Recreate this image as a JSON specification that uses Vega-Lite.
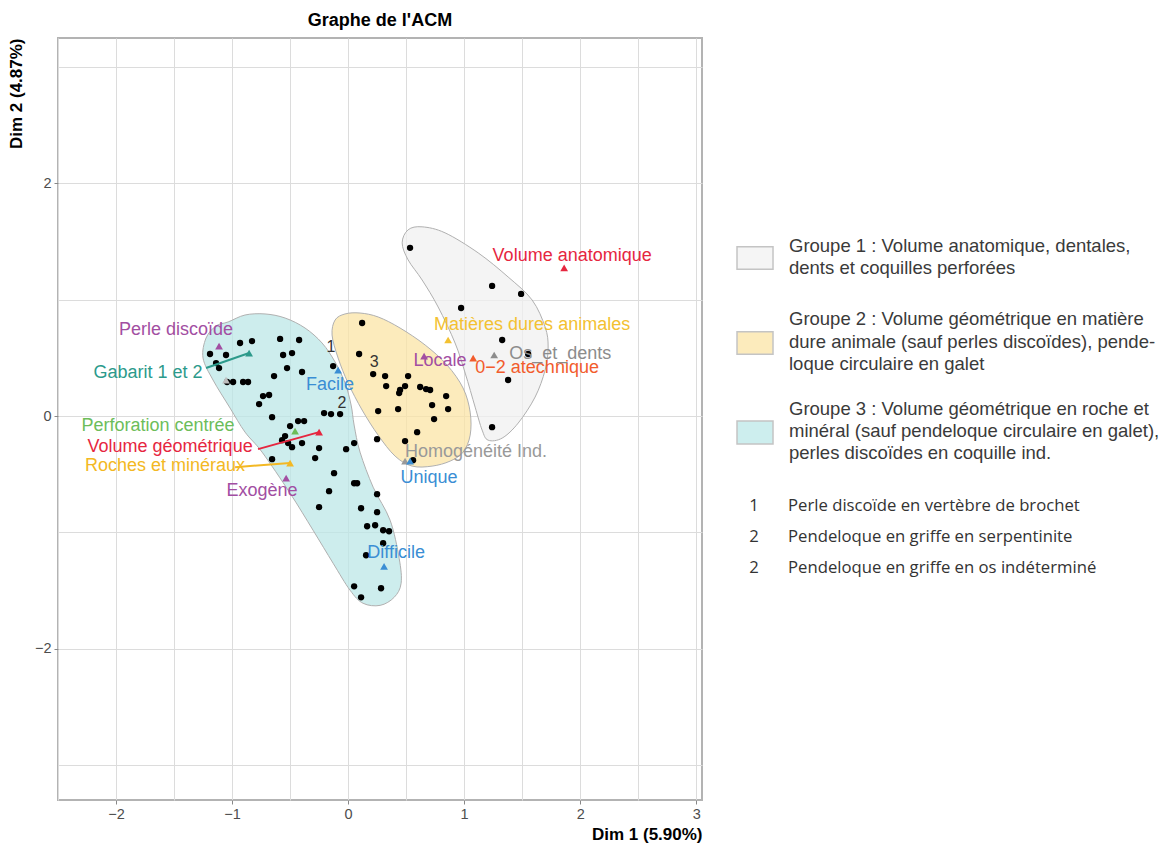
{
  "$schema": "https://vega.github.io/schema/vega-lite/v6.json",
  "background": "white",
  "padding": {"left": 6, "top": 11, "right": 5, "bottom": 5},
  "config": {"font": "Liberation Sans", "concat": {"spacing": 10}},
  "resolve": {"scale": {"x": "independent", "y": "independent", "color": "independent", "fill": "independent"}},
  "datasets": {
    "hulls": [
      {"g": "Groupe 1", "i": 1, "x": 0.466, "y": 1.489},
      {"g": "Groupe 1", "i": 2, "x": 0.517, "y": 1.601},
      {"g": "Groupe 1", "i": 3, "x": 0.638, "y": 1.627},
      {"g": "Groupe 1", "i": 4, "x": 0.836, "y": 1.575},
      {"g": "Groupe 1", "i": 5, "x": 1.121, "y": 1.403},
      {"g": "Groupe 1", "i": 6, "x": 1.379, "y": 1.196},
      {"g": "Groupe 1", "i": 7, "x": 1.586, "y": 0.998},
      {"g": "Groupe 1", "i": 8, "x": 1.698, "y": 0.766},
      {"g": "Groupe 1", "i": 9, "x": 1.724, "y": 0.594},
      {"g": "Groupe 1", "i": 10, "x": 1.698, "y": 0.396},
      {"g": "Groupe 1", "i": 11, "x": 1.612, "y": 0.164},
      {"g": "Groupe 1", "i": 12, "x": 1.466, "y": -0.060},
      {"g": "Groupe 1", "i": 13, "x": 1.328, "y": -0.189},
      {"g": "Groupe 1", "i": 14, "x": 1.207, "y": -0.207},
      {"g": "Groupe 1", "i": 15, "x": 1.155, "y": -0.120},
      {"g": "Groupe 1", "i": 16, "x": 1.095, "y": 0.077},
      {"g": "Groupe 1", "i": 17, "x": 1.009, "y": 0.370},
      {"g": "Groupe 1", "i": 18, "x": 0.922, "y": 0.628},
      {"g": "Groupe 1", "i": 19, "x": 0.776, "y": 0.938},
      {"g": "Groupe 1", "i": 20, "x": 0.638, "y": 1.170},
      {"g": "Groupe 1", "i": 21, "x": 0.517, "y": 1.343},
      {"g": "Groupe 2", "i": 1, "x": -0.112, "y": 0.826},
      {"g": "Groupe 2", "i": 2, "x": -0.026, "y": 0.878},
      {"g": "Groupe 2", "i": 3, "x": 0.103, "y": 0.886},
      {"g": "Groupe 2", "i": 4, "x": 0.259, "y": 0.852},
      {"g": "Groupe 2", "i": 5, "x": 0.448, "y": 0.757},
      {"g": "Groupe 2", "i": 6, "x": 0.664, "y": 0.611},
      {"g": "Groupe 2", "i": 7, "x": 0.853, "y": 0.439},
      {"g": "Groupe 2", "i": 8, "x": 0.991, "y": 0.241},
      {"g": "Groupe 2", "i": 9, "x": 1.052, "y": 0.034},
      {"g": "Groupe 2", "i": 10, "x": 1.052, "y": -0.164},
      {"g": "Groupe 2", "i": 11, "x": 0.991, "y": -0.310},
      {"g": "Groupe 2", "i": 12, "x": 0.879, "y": -0.387},
      {"g": "Groupe 2", "i": 13, "x": 0.724, "y": -0.430},
      {"g": "Groupe 2", "i": 14, "x": 0.552, "y": -0.430},
      {"g": "Groupe 2", "i": 15, "x": 0.405, "y": -0.344},
      {"g": "Groupe 2", "i": 16, "x": 0.259, "y": -0.164},
      {"g": "Groupe 2", "i": 17, "x": 0.121, "y": 0.052},
      {"g": "Groupe 2", "i": 18, "x": 0.000, "y": 0.284},
      {"g": "Groupe 2", "i": 19, "x": -0.086, "y": 0.499},
      {"g": "Groupe 2", "i": 20, "x": -0.138, "y": 0.697},
      {"g": "Groupe 3", "i": 1, "x": -1.034, "y": 0.809},
      {"g": "Groupe 3", "i": 2, "x": -0.888, "y": 0.869},
      {"g": "Groupe 3", "i": 3, "x": -0.716, "y": 0.878},
      {"g": "Groupe 3", "i": 4, "x": -0.543, "y": 0.843},
      {"g": "Groupe 3", "i": 5, "x": -0.371, "y": 0.757},
      {"g": "Groupe 3", "i": 6, "x": -0.224, "y": 0.628},
      {"g": "Groupe 3", "i": 7, "x": -0.112, "y": 0.465},
      {"g": "Groupe 3", "i": 8, "x": -0.026, "y": 0.284},
      {"g": "Groupe 3", "i": 9, "x": 0.026, "y": 0.095},
      {"g": "Groupe 3", "i": 10, "x": 0.052, "y": -0.077},
      {"g": "Groupe 3", "i": 11, "x": 0.103, "y": -0.310},
      {"g": "Groupe 3", "i": 12, "x": 0.216, "y": -0.611},
      {"g": "Groupe 3", "i": 13, "x": 0.362, "y": -0.895},
      {"g": "Groupe 3", "i": 14, "x": 0.440, "y": -1.222},
      {"g": "Groupe 3", "i": 15, "x": 0.457, "y": -1.437},
      {"g": "Groupe 3", "i": 16, "x": 0.397, "y": -1.558},
      {"g": "Groupe 3", "i": 17, "x": 0.276, "y": -1.627},
      {"g": "Groupe 3", "i": 18, "x": 0.129, "y": -1.609},
      {"g": "Groupe 3", "i": 19, "x": 0.017, "y": -1.497},
      {"g": "Groupe 3", "i": 20, "x": -0.129, "y": -1.265},
      {"g": "Groupe 3", "i": 21, "x": -0.302, "y": -0.981},
      {"g": "Groupe 3", "i": 22, "x": -0.500, "y": -0.663},
      {"g": "Groupe 3", "i": 23, "x": -0.741, "y": -0.310},
      {"g": "Groupe 3", "i": 24, "x": -0.888, "y": -0.138},
      {"g": "Groupe 3", "i": 25, "x": -1.017, "y": 0.069},
      {"g": "Groupe 3", "i": 26, "x": -1.164, "y": 0.310},
      {"g": "Groupe 3", "i": 27, "x": -1.250, "y": 0.499},
      {"g": "Groupe 3", "i": 28, "x": -1.224, "y": 0.671},
      {"g": "Groupe 3", "i": 29, "x": -1.138, "y": 0.775}
    ],
    "points": [
      {"x": -1.190, "y": 0.534}, {"x": -1.138, "y": 0.456}, {"x": -1.112, "y": 0.413}, {"x": -1.052, "y": 0.525},
      {"x": -0.931, "y": 0.628}, {"x": -0.828, "y": 0.645}, {"x": -0.586, "y": 0.663}, {"x": -0.422, "y": 0.654},
      {"x": -0.560, "y": 0.525}, {"x": -0.483, "y": 0.542}, {"x": -0.526, "y": 0.413}, {"x": -0.397, "y": 0.379},
      {"x": -0.638, "y": 0.344}, {"x": -1.043, "y": 0.293}, {"x": -0.991, "y": 0.293}, {"x": -0.905, "y": 0.293},
      {"x": -0.862, "y": 0.293}, {"x": -0.733, "y": 0.172}, {"x": -0.681, "y": 0.181}, {"x": -0.767, "y": 0.103},
      {"x": -0.655, "y": -0.009}, {"x": -0.207, "y": 0.026}, {"x": -0.147, "y": 0.017}, {"x": -0.069, "y": 0.017},
      {"x": -0.129, "y": 0.430}, {"x": -0.500, "y": -0.086}, {"x": -0.431, "y": -0.043}, {"x": -0.379, "y": -0.043},
      {"x": -0.543, "y": -0.172}, {"x": -0.569, "y": -0.207}, {"x": -0.517, "y": -0.232}, {"x": -0.483, "y": -0.267},
      {"x": -0.397, "y": -0.232}, {"x": -0.250, "y": -0.275}, {"x": -0.655, "y": -0.370}, {"x": -0.284, "y": -0.361},
      {"x": -0.017, "y": -0.284}, {"x": 0.052, "y": -0.232}, {"x": -0.121, "y": -0.491}, {"x": 0.052, "y": -0.577},
      {"x": 0.078, "y": -0.577}, {"x": -0.164, "y": -0.645}, {"x": 0.250, "y": -0.671}, {"x": -0.250, "y": -0.783},
      {"x": 0.112, "y": -0.792}, {"x": 0.250, "y": -0.826}, {"x": 0.164, "y": -0.947}, {"x": 0.233, "y": -0.938},
      {"x": 0.302, "y": -0.981}, {"x": 0.353, "y": -0.990}, {"x": 0.302, "y": -1.093}, {"x": 0.155, "y": -1.196},
      {"x": 0.052, "y": -1.463}, {"x": 0.284, "y": -1.480}, {"x": 0.112, "y": -1.558},
      {"x": 0.121, "y": 0.800}, {"x": 0.095, "y": 0.534}, {"x": 0.216, "y": 0.361}, {"x": 0.319, "y": 0.344},
      {"x": 0.328, "y": 0.258}, {"x": 0.517, "y": 0.344}, {"x": 0.491, "y": 0.258}, {"x": 0.448, "y": 0.224},
      {"x": 0.440, "y": 0.198}, {"x": 0.621, "y": 0.250}, {"x": 0.672, "y": 0.232}, {"x": 0.707, "y": 0.224},
      {"x": 0.845, "y": 0.172}, {"x": 0.724, "y": 0.095}, {"x": 0.862, "y": 0.060}, {"x": 0.431, "y": 0.060},
      {"x": 0.259, "y": 0.043}, {"x": 0.741, "y": -0.026}, {"x": 0.595, "y": -0.138}, {"x": 0.491, "y": -0.215},
      {"x": 0.250, "y": -0.198}, {"x": 0.560, "y": -0.379},
      {"x": 0.534, "y": 1.446}, {"x": 1.241, "y": 1.119}, {"x": 1.491, "y": 1.050}, {"x": 0.974, "y": 0.929},
      {"x": 1.328, "y": 0.654}, {"x": 1.552, "y": 0.534}, {"x": 1.379, "y": 0.310}, {"x": 1.241, "y": -0.095}
    ],
    "cats": [
      {"cat": "Ind.", "label": "", "x": -1.052, "y": 0.310, "lx": -1.052, "ly": 0.310},
      {"cat": "Perle discoïde", "label": "Perle discoïde", "x": -1.112, "y": 0.602, "lx": -1.483, "ly": 0.740},
      {"cat": "Gabarit 1 et 2", "label": "Gabarit 1 et 2", "x": -0.853, "y": 0.542, "lx": -1.724, "ly": 0.370},
      {"cat": "Perforation centrée", "label": "Perforation centrée", "x": -0.457, "y": -0.129, "lx": -1.638, "ly": -0.086},
      {"cat": "Volume géométrique", "label": "Volume géométrique", "x": -0.250, "y": -0.138, "lx": -1.534, "ly": -0.267},
      {"cat": "Roches et minéraux", "label": "Roches et minéraux", "x": -0.500, "y": -0.404, "lx": -1.578, "ly": -0.430},
      {"cat": "Exogène", "label": "Exogène", "x": -0.534, "y": -0.534, "lx": -0.741, "ly": -0.645},
      {"cat": "Facile", "label": "Facile", "x": -0.086, "y": 0.396, "lx": -0.155, "ly": 0.267},
      {"cat": "Difficile", "label": "Difficile", "x": 0.310, "y": -1.291, "lx": 0.414, "ly": -1.179},
      {"cat": "Homogénéité Ind.", "label": "Homogénéité Ind.", "x": 0.491, "y": -0.387, "lx": 1.103, "ly": -0.310},
      {"cat": "Unique", "label": "Unique", "x": 0.534, "y": -0.387, "lx": 0.698, "ly": -0.534},
      {"cat": "Locale", "label": "Locale", "x": 0.655, "y": 0.516, "lx": 0.793, "ly": 0.473},
      {"cat": "Matières dures animales", "label": "Matières dures animales", "x": 0.862, "y": 0.654, "lx": 1.586, "ly": 0.783},
      {"cat": "0−2 atechnique", "label": "0−2 atechnique", "x": 1.078, "y": 0.499, "lx": 1.629, "ly": 0.413},
      {"cat": "Os_et_dents", "label": "Os_et_dents", "x": 1.259, "y": 0.525, "lx": 1.828, "ly": 0.534},
      {"cat": "Volume anatomique", "label": "Volume anatomique", "x": 1.862, "y": 1.274, "lx": 1.931, "ly": 1.377}
    ],
    "segs": [
      {"cat": "Gabarit 1 et 2", "x": -1.224, "y": 0.413, "x2": -0.853, "y2": 0.542},
      {"cat": "Volume géométrique", "x": -0.776, "y": -0.284, "x2": -0.250, "y2": -0.138},
      {"cat": "Roches et minéraux", "x": -0.974, "y": -0.439, "x2": -0.500, "y2": -0.404}
    ],
    "nums": [
      {"n": "1", "x": -0.147, "y": 0.593},
      {"n": "2", "x": -0.052, "y": 0.112},
      {"n": "3", "x": 0.224, "y": 0.465}
    ],
    "legBoxes": [
      {"grp": "Groupe 1", "top": 9.154, "bottom": 10.145},
      {"grp": "Groupe 2", "top": 12.882, "bottom": 13.873},
      {"grp": "Groupe 3", "top": 16.798, "bottom": 17.807}
    ],
    "legGroups": [
      {"row": 9.123, "text": "Groupe 1 : Volume anatomique, dentales,"},
      {"row": 10.07, "text": "dents et coquilles perforées"},
      {"row": 12.32, "text": "Groupe 2 : Volume géométrique en matière"},
      {"row": 13.32, "text": "dure animale (sauf perles discoïdes), pende-"},
      {"row": 14.30, "text": "loque circulaire en galet"},
      {"row": 16.27, "text": "Groupe 3 : Volume géométrique en roche et"},
      {"row": 17.24, "text": "minéral (sauf pendeloque circulaire en galet),"},
      {"row": 18.22, "text": "perles discoïdes en coquille ind."}
    ],
    "legNums": [
      {"row": 20.53, "num": "1", "text": "Perle discoïde en vertèbre de brochet"},
      {"row": 21.87, "num": "2", "text": "Pendeloque en griffe en serpentinite"},
      {"row": 23.23, "num": "2", "text": "Pendeloque en griffe en os indéterminé"}
    ]
  },
  "hconcat": [
    {
      "width": 644,
      "height": 762,
      "view": {"stroke": "#b3b3b3", "strokeWidth": 2},
      "title": {"text": "Graphe de l'ACM", "fontSize": 18, "fontWeight": "bold", "color": "#000000", "anchor": "middle", "offset": 8},
      "layer": [
        {
          "data": {"name": "hulls"},
          "mark": {"type": "line", "interpolate": "cardinal-closed", "stroke": "#b0b0b0", "strokeWidth": 1, "fillOpacity": 0.75},
          "encoding": {
            "x": {"field": "x", "type": "quantitative", "scale": {"domain": [-2.5, 3.05], "nice": false, "zero": false},
              "axis": {"values": [-2.5, -2, -1.5, -1, -0.5, 0, 0.5, 1, 1.5, 2, 2.5, 3], "labelExpr": "datum.value % 1 === 0 ? replace(toString(datum.value), '-', '−') : ''",
                "labelOverlap": false, "grid": true, "gridColor": "#dcdcdc", "gridWidth": 1, "domain": false,
                "tickColor": {"condition": {"test": "datum.value % 1 !== 0", "value": "transparent"}, "value": "#888888"},
                "tickSize": 4, "labelFontSize": 14.5, "labelColor": "#4d4d4d", "labelPadding": 3,
                "title": "Dim 1 (5.90%)", "titleAnchor": "end", "titleFontSize": 17, "titleFontWeight": "bold", "titleColor": "#000000", "titlePadding": 6}},
            "y": {"field": "y", "type": "quantitative", "scale": {"domain": [-3.3, 3.25], "nice": false, "zero": false},
              "axis": {"values": [-3, -2, -1, 0, 1, 2, 3], "labelExpr": "datum.value % 2 === 0 ? replace(toString(datum.value), '-', '−') : ''",
                "labelOverlap": false, "grid": true, "gridColor": "#dcdcdc", "gridWidth": 1, "domain": false,
                "tickColor": {"condition": {"test": "datum.value % 2 !== 0", "value": "transparent"}, "value": "#888888"},
                "tickSize": 4, "labelFontSize": 14.5, "labelColor": "#4d4d4d", "labelPadding": 3,
                "title": "Dim 2 (4.87%)", "titleAnchor": "end", "titleFontSize": 17, "titleFontWeight": "bold", "titleColor": "#000000", "titlePadding": 9}},
            "order": {"field": "i", "type": "quantitative"},
            "detail": {"field": "g", "type": "nominal"},
            "fill": {"field": "g", "type": "nominal", "scale": {"domain": ["Groupe 1", "Groupe 2", "Groupe 3"], "range": ["#f0f0f0", "#fbe4a6", "#bce7e7"]}, "legend": null}
          }
        },
        {
          "mark": {"type": "rule", "strokeDash": [7, 5], "strokeWidth": 1.8, "color": "#000000"},
          "encoding": {"x": {"datum": 0, "type": "quantitative"}}
        },
        {
          "mark": {"type": "rule", "strokeDash": [7, 5], "strokeWidth": 1.8, "color": "#000000"},
          "encoding": {"y": {"datum": 0, "type": "quantitative"}}
        },
        {
          "data": {"name": "points"},
          "mark": {"type": "circle", "color": "#000000", "size": 40, "opacity": 1},
          "encoding": {"x": {"field": "x", "type": "quantitative"}, "y": {"field": "y", "type": "quantitative"}}
        },
        {
          "data": {"name": "segs"},
          "mark": {"type": "rule", "strokeWidth": 2},
          "encoding": {
            "x": {"field": "x", "type": "quantitative"}, "y": {"field": "y", "type": "quantitative"},
            "x2": {"field": "x2"}, "y2": {"field": "y2"},
            "color": {"field": "cat", "type": "nominal", "legend": null,
              "scale": {"domain": ["Ind.", "Perle discoïde", "Gabarit 1 et 2", "Perforation centrée", "Volume géométrique", "Roches et minéraux", "Exogène", "Facile", "Difficile", "Homogénéité Ind.", "Unique", "Locale", "Matières dures animales", "0−2 atechnique", "Os_et_dents", "Volume anatomique"],
                "range": ["#bdbdbd", "#a24ea2", "#2c9a8b", "#6cbd5a", "#e6263f", "#f3b823", "#a24ea2", "#3a8ed4", "#3a8ed4", "#999999", "#3a8ed4", "#a24ea2", "#f3c131", "#f25c2c", "#8c8c8c", "#e6263f"]}}
          }
        },
        {
          "data": {"name": "cats"},
          "mark": {"type": "point", "shape": "triangle-up", "filled": true, "size": 60, "opacity": 1},
          "encoding": {
            "x": {"field": "x", "type": "quantitative"}, "y": {"field": "y", "type": "quantitative"},
            "color": {"field": "cat", "type": "nominal", "legend": null}
          }
        },
        {
          "data": {"name": "cats"},
          "mark": {"type": "text", "fontSize": 18, "align": "center", "baseline": "middle"},
          "encoding": {
            "x": {"field": "lx", "type": "quantitative"}, "y": {"field": "ly", "type": "quantitative"},
            "text": {"field": "label"},
            "color": {"field": "cat", "type": "nominal", "legend": null}
          }
        },
        {
          "data": {"name": "nums"},
          "mark": {"type": "text", "fontSize": 16, "align": "center", "baseline": "middle", "color": "#333333"},
          "encoding": {
            "x": {"field": "x", "type": "quantitative"}, "y": {"field": "y", "type": "quantitative"},
            "text": {"field": "n"}
          }
        }
      ]
    },
    {
      "width": 455,
      "height": 762,
      "view": {"stroke": null},
      "layer": [
        {
          "data": {"name": "legBoxes"},
          "mark": {"type": "rect", "stroke": "#c4c4c4", "strokeWidth": 1.5},
          "encoding": {
            "x": {"datum": 0, "type": "quantitative", "scale": {"domain": [-0.667, 11.972], "nice": false, "zero": false}, "axis": null},
            "x2": {"datum": 1},
            "y": {"field": "top", "type": "quantitative", "scale": {"domain": [0, 33.42], "reverse": true, "nice": false, "zero": false}, "axis": null},
            "y2": {"field": "bottom"},
            "fill": {"field": "grp", "type": "nominal", "scale": {"domain": ["Groupe 1", "Groupe 2", "Groupe 3"], "range": ["#f5f5f5", "#fcebbc", "#cdeeee"]}, "legend": null}
          }
        },
        {
          "data": {"name": "legGroups"},
          "mark": {"type": "text", "align": "left", "baseline": "middle", "fontSize": 18.5, "color": "#3a3a3a"},
          "encoding": {
            "x": {"datum": 1.444, "type": "quantitative"},
            "y": {"field": "row", "type": "quantitative"},
            "text": {"field": "text"}
          }
        },
        {
          "data": {"name": "legNums"},
          "mark": {"type": "text", "align": "center", "baseline": "middle", "fontSize": 16.7, "font": "Open Sans", "color": "#333333"},
          "encoding": {
            "x": {"datum": 0.472, "type": "quantitative"},
            "y": {"field": "row", "type": "quantitative"},
            "text": {"field": "num"}
          }
        },
        {
          "data": {"name": "legNums"},
          "mark": {"type": "text", "align": "left", "baseline": "middle", "fontSize": 16.7, "font": "Open Sans", "color": "#333333"},
          "encoding": {
            "x": {"datum": 1.417, "type": "quantitative"},
            "y": {"field": "row", "type": "quantitative"},
            "text": {"field": "text"}
          }
        }
      ]
    }
  ]
}
